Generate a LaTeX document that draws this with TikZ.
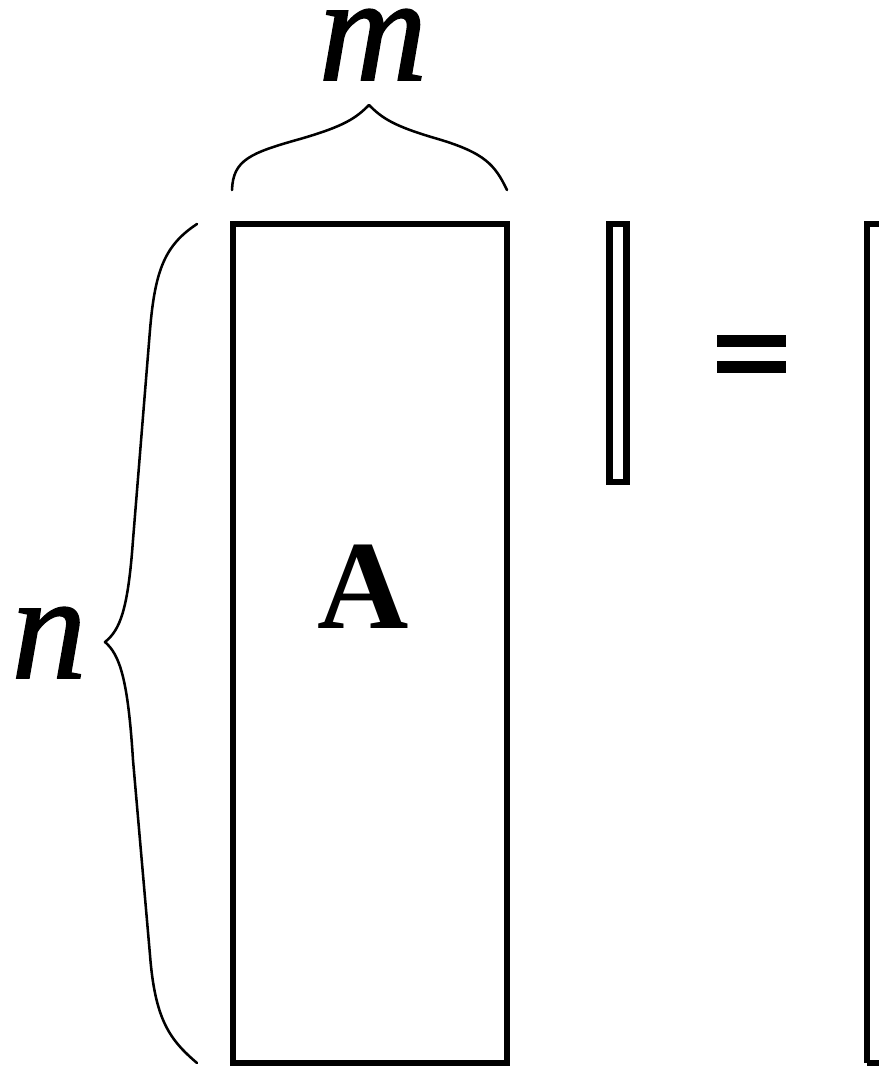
\documentclass[tikz,border=0pt]{standalone}
\usepackage{fontspec}
\setmainfont{Liberation Serif}
\newfontfamily\labfont{Liberation Serif Italic}[FakeBold=1]
\usepackage{tikz}

\tikzset{
  matline/.style={line width=4.3pt},
  braceline/.style={line width=1.8pt, line join=round, line cap=round},
  biglabel/.style={inner sep=0pt, anchor=base, text height=0.5em, font=\fontsize{107}{107}\labfont},
}

\begin{document}
\begin{tikzpicture}[x=0.25mm,y=-0.25mm]
  \useasboundingbox (0,0) rectangle (879,1067);
  \clip (0,0) rectangle (879,1067);

  % matriz A, vector x y resultado
  \draw[matline] (233,224) rectangle (507,1063);
  \draw[matline] (609.5,224) rectangle (626.5,482);
  \draw[matline] (867,1063) -- (867,224) -- (960,224);
  \draw[matline] (867,1063) -- (960,1063);

  % signo igual
  \fill (717,335) rectangle (786,347);
  \fill (717,361) rectangle (786,373);

  \node[inner sep=0pt, anchor=base, font=\fontsize{90}{90}\selectfont\bfseries] (labA) at (363,628) {A};

  % llaves
  \coordinate (mL) at (232,190);
  \coordinate (mR) at (507,190);
  \coordinate (mT) at (369,105);
  \draw[braceline] (mL) .. controls (233,160) and (250,153) .. (300,139)
    .. controls (345,126) and (356,118) .. (mT)
    .. controls (382,118) and (393,126) .. (438,139)
    .. controls (485,153) and (495,165) .. (mR);
  \coordinate (nT) at (197,224);
  \coordinate (nB) at (197,1063);
  \coordinate (nM) at (105,642);
  \draw[braceline] (nT) .. controls (165,245) and (155,270) .. (150,330)
    -- (133,540) .. controls (128,610) and (120,630) .. (nM)
    .. controls (120,655) and (128,680) .. (133,760)
    -- (150,955) .. controls (155,1020) and (170,1040) .. (nB);

  \node[biglabel] (labm) at (373,80) {m};
  \node[biglabel] (labn) at (49,678) {n};
\end{tikzpicture}
\end{document}
